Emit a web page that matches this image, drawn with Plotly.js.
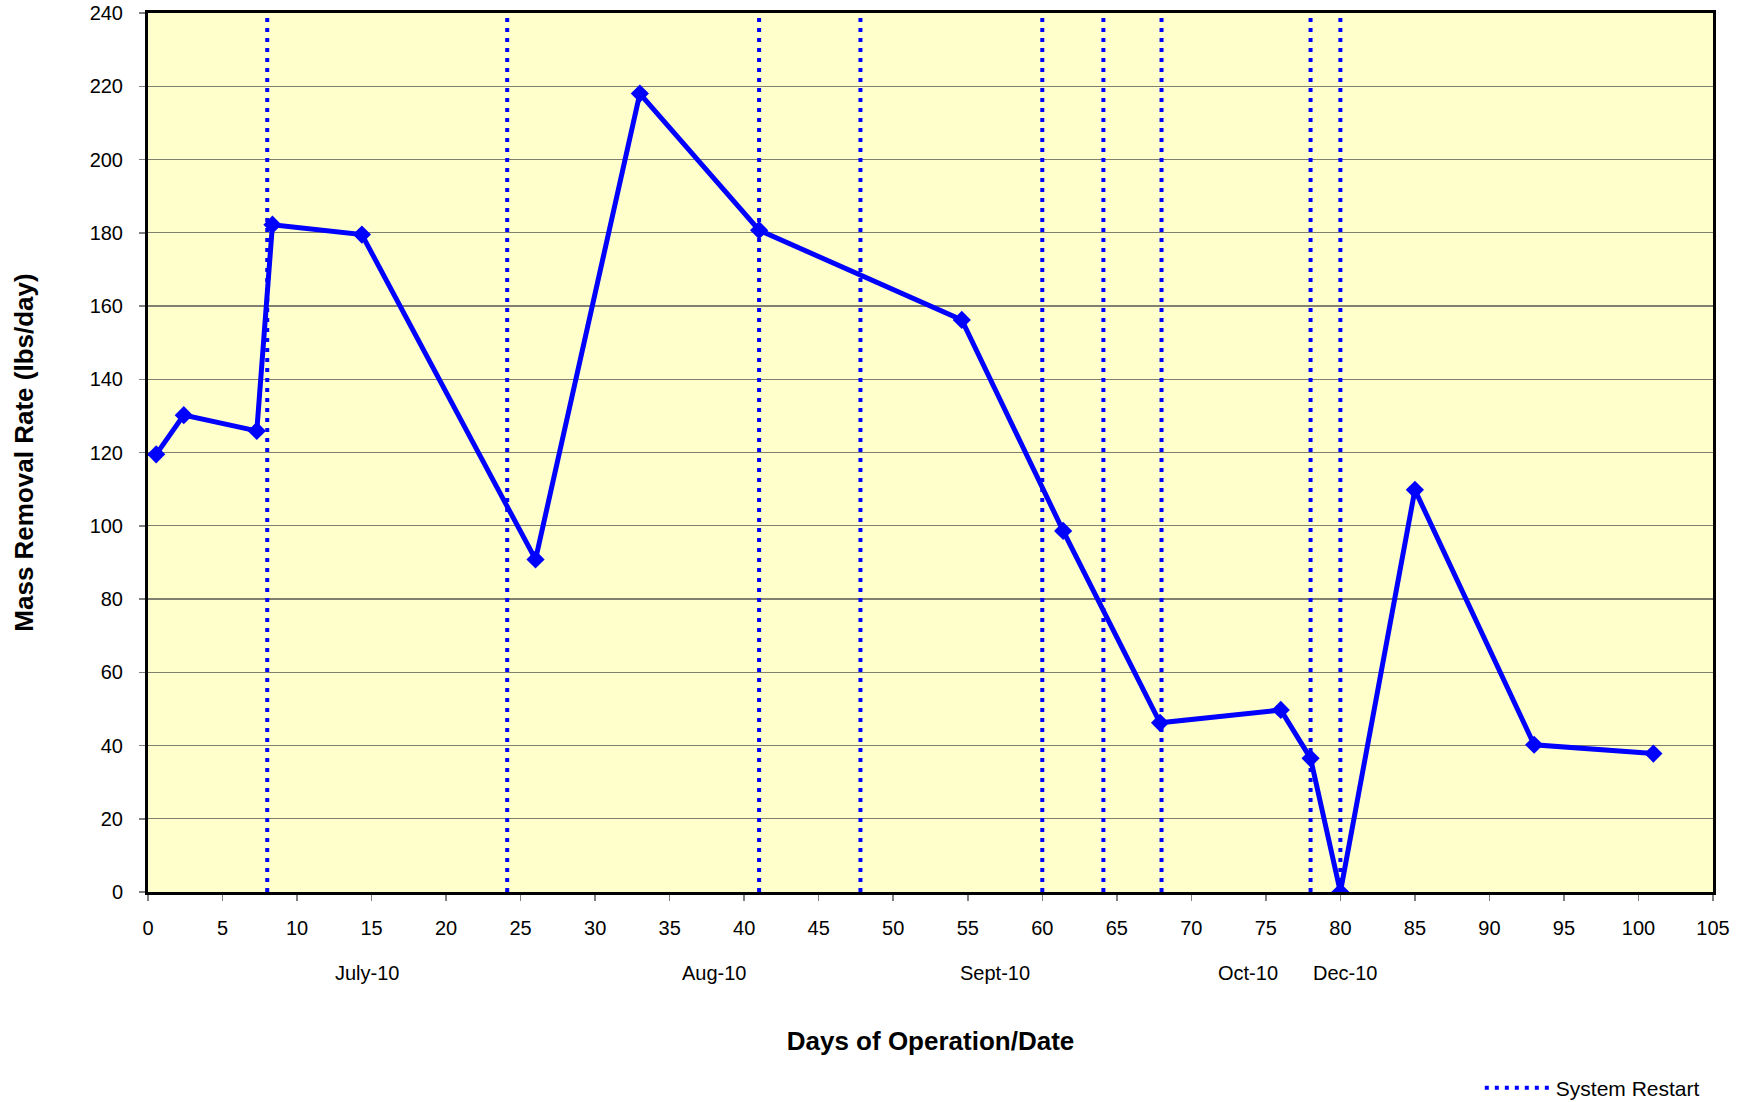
<!DOCTYPE html>
<html>
<head>
<meta charset="utf-8">
<script src="https://cdn.plot.ly/plotly-3.0.1.min.js"></script>
<style>html,body{margin:0;padding:0;background:#fff}#chart{width:1746px;height:1102px}</style>
</head>
<body>
<div id="chart"></div>
<script>
// Days of operation and mass removal rate (lbs/day)
const days = [0.55, 2.4, 7.3, 8.35, 14.35, 26.0, 33.0, 41.0, 54.6, 61.4, 67.9, 76.0, 78.0, 80.0, 85.0, 93.0, 101.0];
const rate = [119.5, 130.2, 125.9, 182.2, 179.5, 90.8, 218.0, 180.7, 156.2, 98.6, 46.2, 49.7, 36.5, 0, 109.8, 40.2, 37.8];
// System restart days
const restartDays = [8.0, 24.1, 41.0, 47.8, 60.0, 64.1, 68.0, 78.0, 80.0];
const restartRange = [0, 240];
// Month labels below the axis
const monthLabels = ["July-10", "Aug-10", "Sept-10", "Oct-10", "Dec-10"];
const monthDays = [14.7, 38.0, 56.8, 73.8, 80.3];

const rx = [], ry = [];
restartDays.forEach(d => { rx.push(d, d, null); ry.push(restartRange[0], restartRange[1], null); });

const font = "Arial, 'Liberation Sans', sans-serif";

const traces = [
  {
    x: rx, y: ry, type: 'scatter', mode: 'lines', name: 'System Restart',
    line: {color: '#0000FF', width: 4, dash: '4px,6px'},
    hoverinfo: 'skip', showlegend: true
  },
  {
    x: days, y: rate, type: 'scatter', mode: 'lines+markers', name: 'Mass Removal Rate',
    line: {color: '#0000FF', width: 5},
    marker: {symbol: 'diamond', size: 14, color: '#0000FF'},
    showlegend: false
  }
];

const annotations = monthLabels.map((t, i) => ({
  text: t, x: monthDays[i], xref: 'x', y: -0.092, yref: 'paper',
  showarrow: false, xanchor: 'center', yanchor: 'middle',
  font: {family: font, size: 20, color: '#000'}
}));

const layout = {
  width: 1746, height: 1102,
  margin: {l: 148, r: 33, t: 13, b: 210, autoexpand: false},
  paper_bgcolor: '#FFFFFF',
  plot_bgcolor: '#FFFFCC',
  font: {family: font, size: 20, color: '#000'},
  xaxis: {
    range: [0, 105], dtick: 5, tick0: 0, automargin: false,
    showline: true, linecolor: '#000', linewidth: 3, mirror: true,
    ticks: 'outside', ticklen: 6, tickcolor: '#808080', tickwidth: 1.5,
    ticklabelstandoff: 10,
    showgrid: false, zeroline: false,
    tickfont: {family: font, size: 20, color: '#000'},
    title: {text: 'Days of Operation/Date', standoff: 94,
            font: {family: font, size: 26, color: '#000', weight: 'bold'}}
  },
  yaxis: {
    range: [0, 240], dtick: 20, tick0: 0, automargin: false,
    showline: true, linecolor: '#000', linewidth: 3, mirror: true,
    ticks: 'outside', ticklen: 6, tickcolor: '#808080', tickwidth: 1.5,
    ticklabelstandoff: 12,
    showgrid: true, gridcolor: '#808070', gridwidth: 1.2, zeroline: false,
    tickfont: {family: font, size: 20, color: '#000'},
    title: {text: 'Mass Removal Rate (lbs/day)', standoff: 49,
            font: {family: font, size: 26, color: '#000', weight: 'bold'}}
  },
  legend: {
    x: 0.851, xanchor: 'left', y: -0.223, yanchor: 'middle',
    bgcolor: 'rgba(0,0,0,0)', borderwidth: 0,
    itemwidth: 66,
    font: {family: font, size: 21, color: '#000'}
  },
  showlegend: true,
  annotations: annotations
};

Plotly.newPlot('chart', traces, layout, {displayModeBar: false, staticPlot: true});
</script>
</body>
</html>
